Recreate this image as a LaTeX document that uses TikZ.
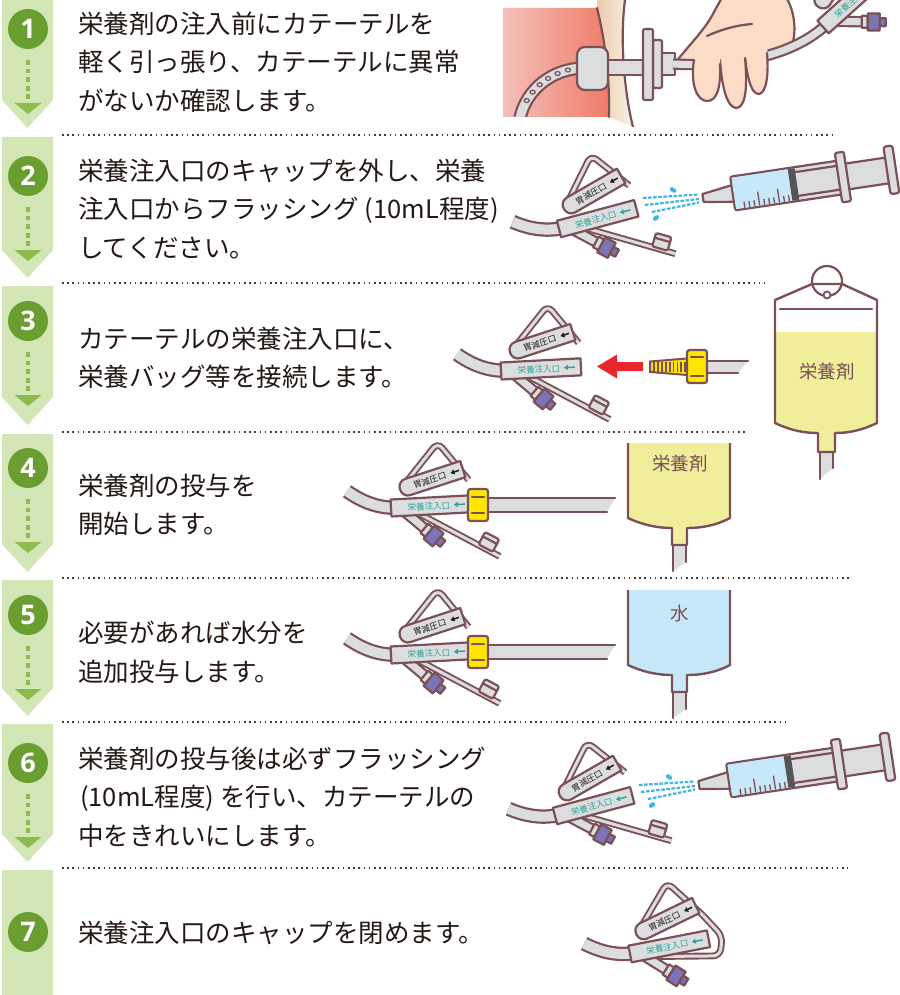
\documentclass[tikz,border=0pt]{standalone}
\usepackage{fontspec}
\setmainfont{Noto Sans CJK JP}
\newfontfamily\numfont{Open Sans}
\usetikzlibrary{arrows.meta}

\definecolor{stripg}{HTML}{D3E6B6}
\definecolor{circg}{HTML}{6B9E31}
\definecolor{dotg}{HTML}{8DBB4C}
\definecolor{brn}{HTML}{7B5057}
\definecolor{gry}{HTML}{DCDDDF}
\definecolor{purp}{HTML}{7C74B6}
\definecolor{tealc}{HTML}{2BA59A}
\definecolor{ylw}{HTML}{FFE600}
\definecolor{bagy}{HTML}{F0EE9B}
\definecolor{bagb}{HTML}{C7E8F8}
\definecolor{sprayc}{HTML}{3DB5E6}
\definecolor{txt}{HTML}{231815}
\definecolor{skin}{HTML}{FBDCC6}
\definecolor{redc}{HTML}{E8262B}
\definecolor{stopc}{HTML}{555557}
\definecolor{pinkl}{HTML}{F6C0BA}
\definecolor{pinkd}{HTML}{EE7B67}
\definecolor{fatc}{HTML}{EACDA8}

% --- parts of the Y-port (local frame: body from (0,0) along +x) ---
\newcommand\ypTube{%
  \draw[tube] (4,0) .. controls (-14,-1) and (-29,-8) .. (-43,-19);}
\newcommand\ypLowOpen{%
  \draw[strap] (26,6) -- (106,54);
  \begin{scope}[shift={(96,39)},rotate=-31]
    \draw[part,rounded corners=2pt] (-8,-7) rectangle (8,7);
    \draw[outline] (-8,-2) -- (8,-2);
  \end{scope}}
\newcommand\ypLowClosed{%
  \draw[strap,rounded corners=7pt] (79,-24) -- (94,0) -- (88,19) -- (28,8);}
% #1: 1 = print the decompression-port label
\newcommand\ypCore[1]{%
  \begin{scope}[shift={(14,5)},rotate=-43]
    \draw[tube=7pt] (0,0) -- (27,0);
    \draw[part] (25,-6) rectangle (31,6);
    \draw[part,fill=purp] (31,-8.5) rectangle (43,8.5);
    \draw[part,fill=purp] (43,-4) rectangle (49,4);
  \end{scope}
  \draw[strap,rounded corners=7pt] (12,-20) -- (50,-63) -- (79,-24);
  \begin{scope}[shift={(10,-18)},rotate=15]
    \draw[part] (66,-8.5) [rounded corners=8pt] -- (0,-8.5) -- (0,8.5)
      [sharp corners] -- (66,8.5) -- cycle;
    \ifnum#1=1
      \node[lbl,text=txt] (-gl) at (31,0.5) {胃減圧口};
      \draw[lblarrow,txt] (62,0) -- (53,0);
    \fi
  \end{scope}
  \draw[part] (0,-8.5) rectangle (80,8.5);
  \node[lbl,text=tealc] (-el) at (38,0.5) {栄養注入口};
  \draw[lblarrow,tealc] (74,0) -- (63,0);}

\tikzset{
  outline/.style={draw=brn,line width=2.2pt,line join=round,line cap=round},
  part/.style={draw=brn,fill=gry,line width=2.2pt,line join=round},
  tube/.style={draw=brn,line width=2.2pt,double=gry,double distance=#1},
  tube/.default=10pt,
  strap/.style={draw=brn,line width=1.9pt,double=gry,double distance=3pt,line join=round},
  lbl/.style={transform shape,inner sep=0pt,font=\fontsize{8.5}{8.5}\selectfont},
  lblarrow/.style={line width=1.5pt,-{Triangle[length=4pt,width=5pt]}},
  steptxt/.style={anchor=west,align=left,inner sep=0pt,text=txt,
    font=\fontsize{25.5}{38.5}\selectfont},
  stepnum/.style={circle,fill=circg,minimum size=40pt,inner sep=0pt,text=white,
    font=\numfont\bfseries\fontsize{27}{27}\selectfont},
  sepline/.style={draw=txt!85,line width=1.8pt,dash pattern=on 1.6pt off 3.6pt},
  bagline/.style={draw=brn,line width=2.4pt,line join=round},
  spr/.style={draw=sprayc,line width=2.2pt,dash pattern=on 3.5pt off 1.6pt},
  bagtxt/.style={text=brn,inner sep=0pt,font=\fontsize{18.5}{18.5}\selectfont},
  pics/yport/.style={code={\ypLowOpen \ypTube \ypCore{1}}},
  pics/yportclosed/.style={code={\ypLowClosed \ypTube \ypCore{1}}},
  pics/yportpart/.style={code={\ypCore{0}}},
  % flushing syringe, nozzle tip at the origin
  pics/syringe/.style={code={
    \draw[part] (140,-13) rectangle (190,13);
    \draw[part,rounded corners=2.5pt] (186,-24) rectangle (195,24);
    \draw[part] (0,-4) -- (31,-8.5) -- (31,8.5) -- (0,4) -- cycle;
    \draw[part,rounded corners=2pt] (30,-17) rectangle (143,17);
    \fill[bagb] (31.2,-15.8) rectangle (88,15.8);
    \foreach \k in {0,...,9}{
      \pgfmathsetmacro{\tl}{(\k==3 || \k==7) ? 14 : 6}
      \draw[brn,line width=1.3pt] (40+5*\k,15.8) -- ++(0,-\tl);
    }
    \fill[stopc] (88,-15.8) rectangle (95,15.8);
    \draw[outline] (95,-12) -- (142,-12) (95,12) -- (142,12);
    \draw[part,rounded corners=2pt] (137,-25) rectangle (146,25);
  }},
  % water jet leaving the nozzle
  pics/spray/.style={code={
    \draw[spr] (-60,0) -- (-4,-3.5);
    \draw[spr] (-58,7) -- (-4,1);
    \draw[spr] (-51,14) -- (-4,4.5);
    \fill[sprayc,rotate around={-35:(-30,-8)}] (-30,-8) ellipse [x radius=3.6, y radius=2.3];
    \fill[sprayc,rotate around={35:(-47,20)}] (-47,20) ellipse [x radius=3.6, y radius=2.3];
  }},
  % yellow bag connector with outgoing line
  pics/hubline/.style={code={
    \fill[gry] (18,9) -- (147,9) -- (139,23) -- (18,23) -- cycle;
    \draw[outline] (18,9) -- (147,9) (18,23) -- (139,23);
    \draw[draw=brn,fill=ylw,line width=2.2pt,rounded corners=2.5pt] (0,0) rectangle (20,32);
    \draw[outline] (4,8) -- (16,8) (4,24) -- (16,24);
  }},
}

\begin{document}
\begin{tikzpicture}[x=1pt,y=-1pt]
\useasboundingbox (0,0) rectangle (899,995);
\fill[white] (0,0) rectangle (899,995);

% ---------- left band with step markers ----------
\foreach \tp/\cs/\tip in {0/100/128,137/250/278,286/397/425,434/544/572,580/688/716,724/834/862}
  \fill[stripg] (2,\tp) -- (53,\tp) -- (53,\cs) -- (27.5,\tip) -- (2,\cs) -- cycle;
\fill[stripg] (2,870) rectangle (53,995);

\foreach \c in {29,176,321,468,615,763}{
  \foreach \k in {0,...,4}
    \fill[dotg] (25.5,\c+31+8.6*\k) rectangle ++(4.8,4.8);
  \fill[dotg] (14.5,\c+74) -- (41.5,\c+74) -- (28,\c+85) -- cycle;
}
\node[stepnum] (n1) at (28,29) {1};
\node[stepnum] (n2) at (28,176) {2};
\node[stepnum] (n3) at (28,321) {3};
\node[stepnum] (n4) at (28,468) {4};
\node[stepnum] (n5) at (28,615) {5};
\node[stepnum] (n6) at (28,763) {6};
\node[stepnum] (n7) at (28,932) {7};

% ---------- separators ----------
\foreach \yy/\xe in {135/833,283/765,432/748,578/850,722/790,868/848}
  \draw[sepline] (62,\yy) -- (\xe,\yy);

% ---------- instructions ----------
\node[steptxt] (t1) at (78,62) {栄養剤の注入前にカテーテルを\\軽く引っ張り、カテーテルに異常\\がないか確認します。};
\node[steptxt] (t2) at (78,209) {栄養注入口のキャップを外し、栄養\\注入口からフラッシング\kern6pt(10mL程度)\\してください。};
\node[steptxt] (t3) at (78,358) {カテーテルの栄養注入口に、\\栄養バッグ等を接続します。};
\node[steptxt] (t4) at (78,505) {栄養剤の投与を\\開始します。};
\node[steptxt] (t5) at (78,652) {必要があれば水分を\\追加投与します。};
\node[steptxt] (t6) at (78,797) {栄養剤の投与後は必ずフラッシング\\\kern2pt(10mL程度)\kern6ptを行い、カテーテルの\\中をきれいにします。};
\node[steptxt] (t7) at (78,933) {栄養注入口のキャップを閉めます。};

% ---------- step 1: checking the catheter ----------
\begin{scope}
  \clip (495,0) rectangle (899,127);
  \shade[left color=pinkl,right color=pinkd] (503,8) -- (597,8)
    .. controls (605,40) and (610,80) .. (609,117) -- (503,117) -- cycle;
  \shade[left color=fatc,right color=fatc!25] (597,8)
    .. controls (605,40) and (610,80) .. (609,117) -- (633,127)
    .. controls (626,100) and (619,45) .. (625,0) -- (597,0) -- cycle;
  \draw[outline] (597,8) .. controls (605,40) and (610,80) .. (609,117);
  \draw[outline] (625,0) .. controls (619,45) and (626,100) .. (633,127);
  \begin{scope}
    \clip (495,0) rectangle (899,117);
    \draw[tube=9pt] (585,68) .. controls (552,68) and (526,90) .. (520,118)
      coordinate[pos=0.18] (h1) coordinate[pos=0.3] (h2) coordinate[pos=0.42] (h3)
      coordinate[pos=0.54] (h4) coordinate[pos=0.66] (h5) coordinate[pos=0.78] (h6);
    \foreach \h in {h1,h2,h3,h4,h5,h6}
      \draw[draw=brn,fill=gry,line width=1.2pt] (\h) ellipse [x radius=2.6, y radius=2];
  \end{scope}
  \draw[part] (604,60) rectangle (645,75);
  \draw[part,rounded corners=8pt] (577,47) rectangle (608,90);
  \draw[part,rounded corners=2pt] (653,40) rectangle (662,88);
  \draw[part,rounded corners=2pt] (643,29) rectangle (653,100);
  \draw[part] (662,53) rectangle (675,75);
  % palm behind the tube
  \fill[skin] (676,62) .. controls (688,46) and (705,30) .. (714,12)
    .. controls (717,6) and (720,2) .. (722,-3) -- (786,-3)
    .. controls (794,10) and (797,30) .. (792,45) -- (770,55) -- (700,66) -- cycle;
  \draw[outline] (676,62) .. controls (688,46) and (705,30) .. (714,12)
    .. controls (717,6) and (720,2) .. (722,-3);
  \draw[outline] (786,-3) .. controls (794,10) and (797,30) .. (792,45);
  \draw[outline] (707,36) .. controls (722,29) and (738,25) .. (752,24);
  % external tube up to the port
  \draw[tube=7pt] (673,64) .. controls (730,67) and (790,58) .. (826,25);
  \pic[rotate=42] (p1) at (823,27) {yportpart};
  % fingers round the tube
  \fill[skin] (743,46) -- (745,60) .. controls (748,82) and (752,94) .. (759,94)
    .. controls (766,93) and (769,76) .. (767,44) -- cycle;
  \draw[outline] (745,58) .. controls (748,82) and (752,94) .. (759,94)
    .. controls (766,93) and (769,76) .. (767,53);
  \fill[skin] (719,50) -- (720,62) .. controls (722,88) and (727,107) .. (736,108)
    .. controls (745,108) and (748,90) .. (745,50) -- cycle;
  \draw[outline] (720,60) .. controls (722,88) and (727,107) .. (736,108)
    .. controls (745,108) and (748,90) .. (745,58);
  \fill[skin] (694,52) -- (694,64) .. controls (690,84) and (697,101) .. (707,101)
    .. controls (717,101) and (721,88) .. (720,52) -- cycle;
  \draw[outline] (694,60) .. controls (690,84) and (697,101) .. (707,101)
    .. controls (717,101) and (721,88) .. (720,64);
\end{scope}

% ---------- step 2: flushing ----------
\pic[rotate=15] (p2) at (559,229) {yport};
\pic (s2) at (703,198) {spray};
\pic[rotate=8.5] (g2) at (703,198) {syringe};

% ---------- step 3: connecting the bag ----------
\pic[rotate=3] (p3) at (501,371) {yport};
\fill[redc] (643,362) -- (617,362) -- (617,354.5) -- (597,366.5) -- (617,378.5)
  -- (617,371) -- (643,371) -- cycle;
\fill[gry] (705,361) -- (748,361) -- (738,373) -- (705,373) -- cycle;
\draw[outline] (705,361) -- (748,361) (705,373) -- (738,373);
\draw[draw=brn,fill=ylw,line width=2pt] (650,361.5) -- (687,358.5) -- (687,375) -- (650,372) -- cycle;
\foreach \k in {0,...,8}
  \draw[brn,line width=1.8pt] (654+3.9*\k,361.5) -- (654+3.9*\k,372);
\draw[draw=brn,fill=ylw,line width=2.2pt,rounded corners=2.5pt] (687,350) rectangle (707,383);
\draw[outline] (691,357) -- (703,357) (691,376) -- (703,376);
% hanging bag
\begin{scope}
  \clip (775,300) -- (812,284) -- (842,284) -- (877,300) -- (877,423)
    .. controls (860,431) and (848,433) .. (835,433) -- (835,452) -- (818,452)
    -- (818,433) .. controls (805,433) and (792,431) .. (775,423) -- cycle;
  \fill[white] (770,280) rectangle (880,460);
  \fill[bagy] (770,332) rectangle (880,460);
\end{scope}
\fill[gry] (820,452) -- (833,452) -- (833,468) -- (820,479) -- cycle;
\draw[outline] (820,452) -- (820,479) (833,452) -- (833,468);
\draw[bagline] (775,300) -- (812,284) -- (842,284) -- (877,300) -- (877,423)
  .. controls (860,431) and (848,433) .. (835,433) -- (835,452) -- (818,452)
  -- (818,433) .. controls (805,433) and (792,431) .. (775,423) -- cycle;
\draw[outline] (780,309) -- (872,309);
\draw[outline] (827,281) circle (15);
\draw[draw=brn,fill=white,line width=1.8pt] (827,295) circle (3.5);
\node[bagtxt] (b3) at (827,372) {栄養剤};

% ---------- step 4: feeding ----------
\pic[rotate=3] (p4) at (391,508) {yport};
\pic (hl4) at (468,489) {hubline};
\fill[gry] (673,546) -- (686,546) -- (686,562) -- (673,571) -- cycle;
\draw[outline] (673,545) -- (673,571) (686,545) -- (686,562);
\draw[bagline,fill=bagy] (628,443) -- (628,518) .. controls (645,526) and (660,528) .. (672,528)
  -- (672,545) -- (687,545) -- (687,528) .. controls (700,528) and (715,526) .. (730,518) -- (730,443);
\node[bagtxt] (b4) at (680,464) {栄養剤};

% ---------- step 5: water ----------
\pic[rotate=3] (p5) at (391,655) {yport};
\pic (hl5) at (468,636) {hubline};
\fill[gry] (673,693) -- (686,693) -- (686,709) -- (673,718) -- cycle;
\draw[outline] (673,692) -- (673,718) (686,692) -- (686,709);
\draw[bagline,fill=bagb] (628,590) -- (628,665) .. controls (645,673) and (660,675) .. (672,675)
  -- (672,692) -- (687,692) -- (687,675) .. controls (700,675) and (715,673) .. (730,665) -- (730,590);
\node[bagtxt] (b5) at (680,613) {水};

% ---------- step 6: flushing after feeding ----------
\begin{scope}[shift={(-4,587)}]
  \pic[rotate=15] (p6) at (559,229) {yport};
  \pic (s6) at (703,198) {spray};
  \pic[rotate=8.5] (g6) at (703,198) {syringe};
\end{scope}

% ---------- step 7: cap closed ----------
\pic[rotate=11] (p7) at (630,954) {yportclosed};

\end{tikzpicture}
\end{document}
